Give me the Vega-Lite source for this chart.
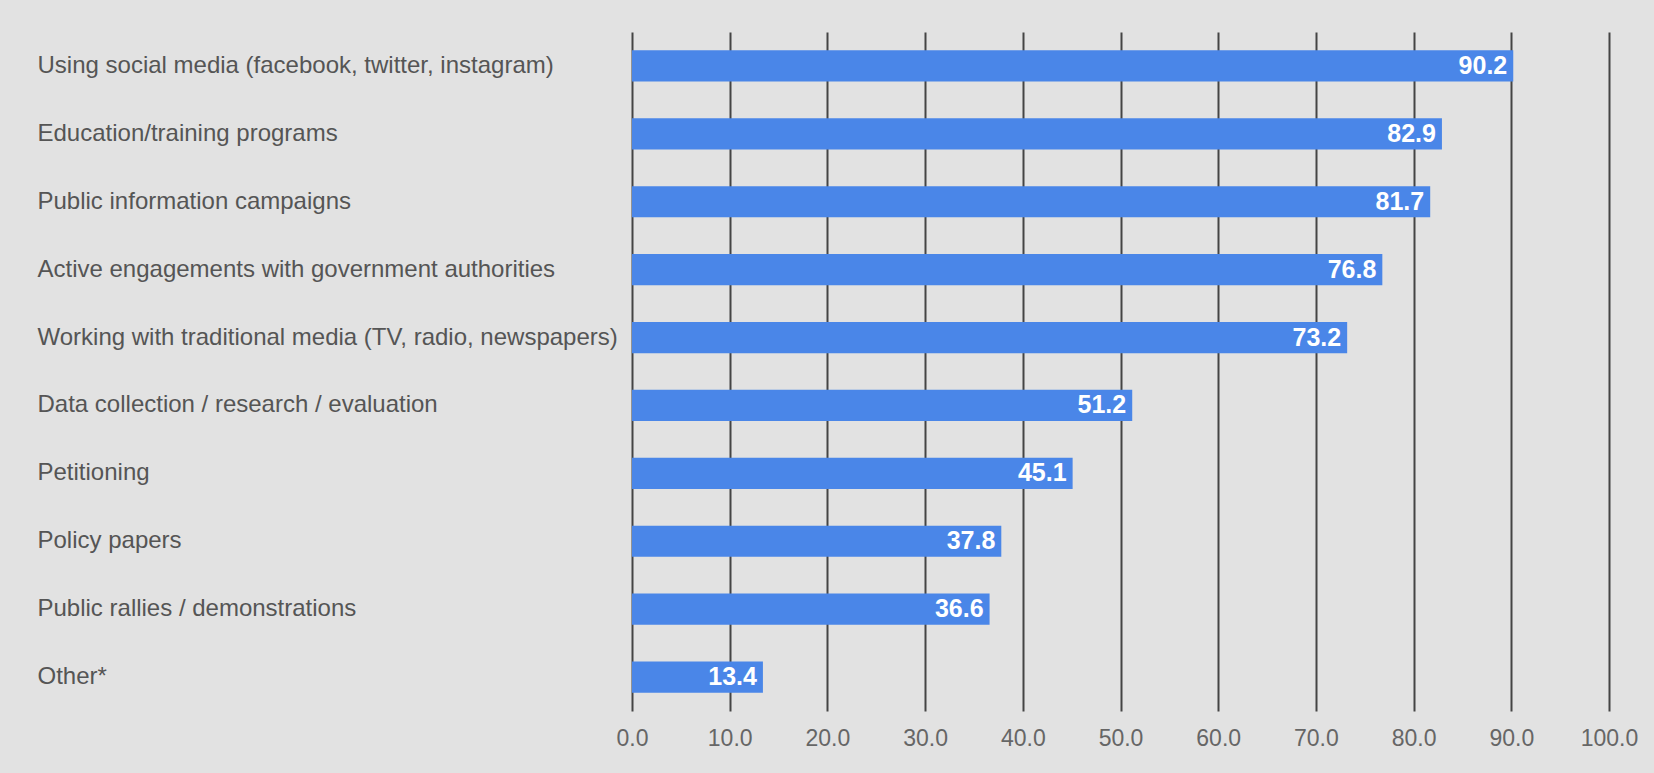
{
  "$schema": "https://vega.github.io/schema/vega-lite/v6.json",
  "autosize": {"type": "none"},
  "width": 977,
  "height": 679,
  "padding": {"left": 632, "top": 32, "right": 45, "bottom": 62},
  "background": "#e2e2e2",
  "config": {
    "view": {"stroke": null},
    "font": "Liberation Sans"
  },
  "data": {
    "values": [
      {"category": "Using social media (facebook, twitter, instagram)", "value": 90.2},
      {"category": "Education/training programs", "value": 82.9},
      {"category": "Public information campaigns", "value": 81.7},
      {"category": "Active engagements with government authorities", "value": 76.8},
      {"category": "Working with traditional media (TV, radio, newspapers)", "value": 73.2},
      {"category": "Data collection / research / evaluation", "value": 51.2},
      {"category": "Petitioning", "value": 45.1},
      {"category": "Policy papers", "value": 37.8},
      {"category": "Public rallies / demonstrations", "value": 36.6},
      {"category": "Other*", "value": 13.4}
    ]
  },
  "encoding": {
    "y": {
      "field": "category",
      "type": "nominal",
      "sort": null,
      "scale": {"paddingInner": 0.54, "paddingOuter": 0.27},
      "axis": {
        "title": null,
        "domain": false,
        "ticks": false,
        "grid": false,
        "labelAlign": "left",
        "labelPadding": 595,
        "labelFontSize": 24,
        "labelColor": "#555555",
        "labelLimit": 700
      }
    },
    "x": {
      "field": "value",
      "type": "quantitative",
      "scale": {"domain": [0, 100], "nice": false},
      "axis": {
        "title": null,
        "values": [0, 10, 20, 30, 40, 50, 60, 70, 80, 90, 100],
        "format": ".1f",
        "domain": false,
        "ticks": false,
        "grid": true,
        "gridColor": "#444444",
        "gridWidth": 2,
        "gridOpacity": 1,
        "labelFlush": false,
        "labelPadding": 16,
        "labelFontSize": 23,
        "labelColor": "#666666"
      }
    }
  },
  "layer": [
    {
      "mark": {"type": "bar", "color": "#4a86e8"}
    },
    {
      "mark": {
        "type": "text",
        "align": "right",
        "baseline": "middle",
        "dx": -6,
        "color": "#ffffff",
        "fontWeight": "bold",
        "fontSize": 25
      },
      "encoding": {
        "text": {"field": "value", "type": "quantitative", "format": ".1f"}
      }
    }
  ]
}
